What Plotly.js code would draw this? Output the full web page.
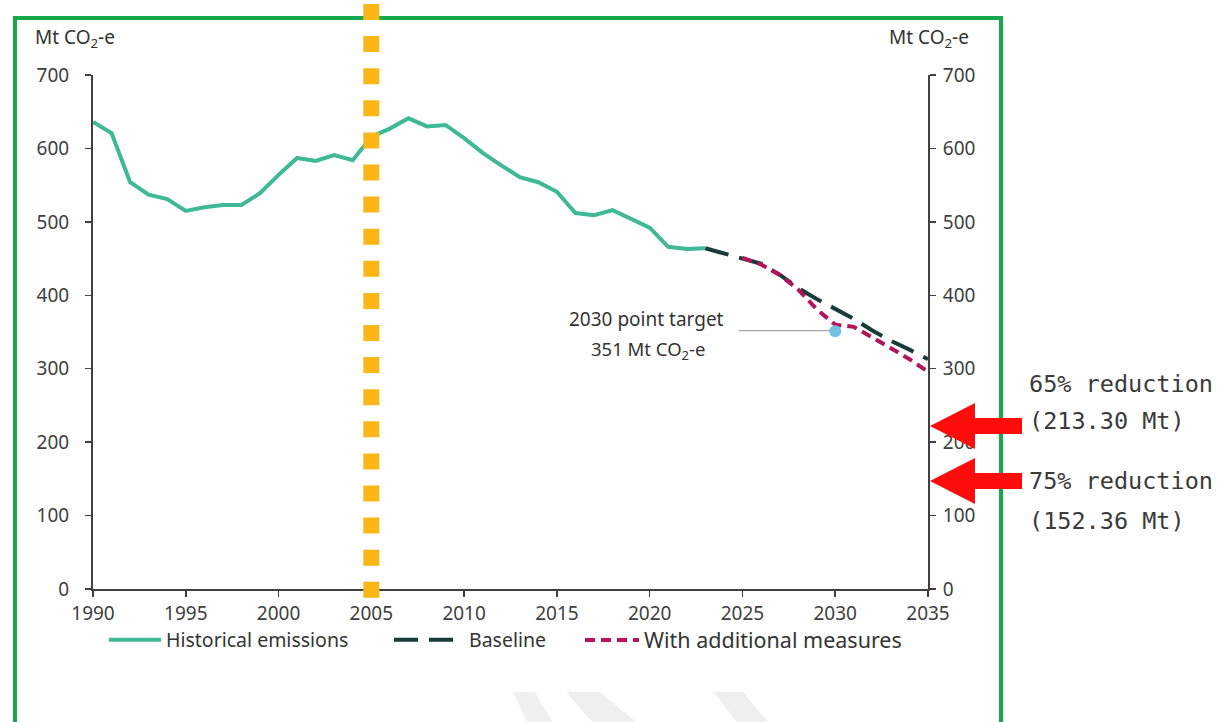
<!DOCTYPE html>
<html>
<head>
<meta charset="utf-8">
<script src="https://cdn.plot.ly/plotly-3.0.1.min.js"></script>
<style>html,body{margin:0;padding:0;background:#fff;}#chart{width:1221px;height:722px;}</style>
</head>
<body>
<div id="chart"></div>
<script>
// ---------- data ----------
const histYears = [1990,1991,1992,1993,1994,1995,1996,1997,1998,1999,2000,2001,2002,2003,2004,2005,2006,2007,2008,2009,2010,2011,2012,2013,2014,2015,2016,2017,2018,2019,2020,2021,2022,2023];
const histValues = [636,621,554,537,531,515,520,523,523,539,564,587,583,591,584,616,627,641,630,632,614,594,577,561,554,541,512,509,516,504,492,466,463,464];
const baseYears = [2023,2024,2025,2026,2027,2028,2029,2030,2031,2032,2033,2034,2035];
const baseValues = [464,457,451,443,428,410,395,382,368,352,338,326,313];
const wamYears = [2025,2026,2027,2028,2029,2030,2031,2032,2033,2034,2035];
const wamValues = [451,442,428,408,381,360,357,343,328,313,296];
const seriesNames = ['Historical emissions', 'Baseline', 'With additional measures'];
const targetYear = [2030];
const targetValue = [351];
const targetLabel = ['2030 point target', '351 Mt CO<sub>2</sub>-e'];
const referenceYear = 2005;
const reductionLabels = [["65% reduction","(213.30 Mt)"],["75% reduction","(152.36 Mt)"]];
const xTicks = [1990,1995,2000,2005,2010,2015,2020,2025,2030,2035];
const yTicks = [0,100,200,300,400,500,600,700];

// ---------- layout helpers (pixel -> paper) ----------
const W = 1221, H = 722, L = 93, R = 293, T = 75, B = 133;
const pw = W - L - R, ph = H - T - B;
const fx = px => (px - L) / pw;
const fy = py => (H - B - py) / ph;

const axisColor = '#404040';
const font = 'Noto Sans, Open Sans, Arial, sans-serif';

const traces = [
  {x: histYears, y: histValues, type: 'scatter', mode: 'lines', name: seriesNames[0], legend: 'legend',
   line: {color: '#3fb896', width: 4}},
  {x: baseYears, y: baseValues, type: 'scatter', mode: 'lines', name: seriesNames[1], legend: 'legend2',
   line: {color: '#163b38', width: 4, dash: '24px,11px'}},
  {x: wamYears, y: wamValues, type: 'scatter', mode: 'lines', name: seriesNames[2], legend: 'legend3',
   line: {color: '#b3155a', width: 4, dash: '10px,6px'}},
  {x: targetYear, y: targetValue, type: 'scatter', mode: 'markers', showlegend: false, yaxis: 'y2',
   marker: {color: '#72c3e3', size: 12}}
];

// red arrows
function arrowPath(tipPx, tipPy) {
  const headX = tipPx + 45, endX = tipPx + 92;
  const hh = 23, sh = 8;
  const p = [[tipPx, tipPy],[headX, tipPy - hh],[headX, tipPy - sh],[endX, tipPy - sh],[endX, tipPy + sh],[headX, tipPy + sh],[headX, tipPy + hh]];
  return 'M ' + p.map(q => fx(q[0]).toFixed(5) + ' ' + fy(q[1]).toFixed(5)).join(' L ') + ' Z';
}
function stripe(a, b, c, d) {
  return 'M '+fx(a)+' '+fy(692)+' L '+fx(b)+' '+fy(692)+' L '+fx(c)+' '+fy(722)+' L '+fx(d)+' '+fy(722)+' Z';
}
const leaderYears = 5.2; // leader line length in x units

const shapes = [
  {type:'path', xref:'paper', yref:'paper', path: stripe(513,535,552,527), fillcolor:'#efefef', line:{width:0}, layer:'below'},
  {type:'path', xref:'paper', yref:'paper', path: stripe(566,600,636,592), fillcolor:'#efefef', line:{width:0}, layer:'below'},
  {type:'path', xref:'paper', yref:'paper', path: stripe(713,743,768,737), fillcolor:'#efefef', line:{width:0}, layer:'below'},
  {type:'rect', xref:'paper', yref:'paper', x0: fx(15), x1: fx(1001), y0: fy(740), y1: fy(18),
   line:{color:'#18a84c', width:4}, fillcolor:'rgba(0,0,0,0)'},
  {type:'line', xref:'x', yref:'paper', x0: referenceYear, x1: referenceYear, y0: fy(4), y1: fy(600),
   line:{color:'#fbb617', width:16, dash:'16px,16.1px'}},
  {type:'line', xref:'x', yref:'y', x0: targetYear[0] - leaderYears, x1: targetYear[0] - 0.2,
   y0: targetValue[0] + 1, y1: targetValue[0] + 1, line:{color:'#a8a8a8', width:1.2}, layer:'below'},
  {type:'path', xref:'paper', yref:'paper', path: arrowPath(930, 426), fillcolor:'#ff0d0d', line:{width:0}},
  {type:'path', xref:'paper', yref:'paper', path: arrowPath(930, 481), fillcolor:'#ff0d0d', line:{width:0}}
];

const monoFont = {family: 'DejaVu Sans Mono, Liberation Mono, monospace', size: 23.5, color: '#3a3a3a'};
const textPy = [[384, 421], [481, 521]];
const annotations = [
  {xref:'paper', yref:'paper', x: fx(33), y: fy(38), xanchor:'left', yanchor:'middle', showarrow:false,
   text:'Mt CO<sub>2</sub>-e', font:{family: font, size:19, color:'#333'}},
  {xref:'paper', yref:'paper', x: fx(971), y: fy(38), xanchor:'right', yanchor:'middle', showarrow:false,
   text:'Mt CO<sub>2</sub>-e', font:{family: font, size:19, color:'#333'}},
  {xref:'paper', yref:'paper', x: fx(646), y: fy(319), xanchor:'center', yanchor:'middle', showarrow:false,
   text: targetLabel[0], font:{family: font, size:19, color:'#333'}},
  {xref:'paper', yref:'paper', x: fx(648), y: fy(350), xanchor:'center', yanchor:'middle', showarrow:false,
   text: targetLabel[1], font:{family: font, size:18.5, color:'#333'}}
];
reductionLabels.forEach((pair, i) => {
  pair.forEach((t, j) => {
    annotations.push({xref:'paper', yref:'paper', x: fx(1027), y: fy(textPy[i][j]), xanchor:'left', yanchor:'middle',
      showarrow:false, text:t, font: monoFont});
  });
});

const tickFont = {family: font, size:19, color: axisColor};
const legFont = {family: font, size:19.5, color:'#333'};
const legBase = {orientation:'h', yanchor:'middle', y: fy(640), xanchor:'left', font: legFont, bgcolor:'rgba(0,0,0,0)'};
const layout = {
  width: W, height: H,
  margin: {l: L, r: R, t: T, b: B, pad: 0},
  paper_bgcolor: '#ffffff', plot_bgcolor: '#ffffff',
  font: {family: font, color: axisColor},
  showlegend: true,
  legend: Object.assign({}, legBase, {x: fx(104), itemwidth: 52}),
  legend2: Object.assign({}, legBase, {x: fx(389), itemwidth: 70}),
  legend3: Object.assign({}, legBase, {x: fx(580), itemwidth: 54, font: {family: font, size: 21.5, color:'#333'}}),
  xaxis: {range:[1990,2035], tickvals: xTicks, ticktext: xTicks.map(String), showgrid:false, zeroline:false,
          showline:true, linecolor: axisColor, linewidth:2, ticks:'outside', ticklen:6, tickwidth:1.5,
          tickcolor: axisColor, tickfont: tickFont},
  yaxis: {range:[0,700], tickvals: yTicks, showgrid:false, zeroline:false, showline:true, linecolor: axisColor,
          linewidth:2, ticks:'outside', ticklen:6, tickwidth:1.5, tickcolor: axisColor,
          tickfont: tickFont, ticklabelstandoff: 12},
  yaxis2: {range:[0,700], tickvals: yTicks, overlaying:'y', side:'right', showgrid:false, zeroline:false,
           showline:true, linecolor: axisColor, linewidth:2, ticks:'outside', ticklen:6, tickwidth:1.5,
           tickcolor: axisColor, tickfont: tickFont, ticklabelstandoff: 3},
  shapes: shapes,
  annotations: annotations
};

Plotly.newPlot('chart', traces, layout, {displayModeBar:false, staticPlot:true});
</script>
</body>
</html>
